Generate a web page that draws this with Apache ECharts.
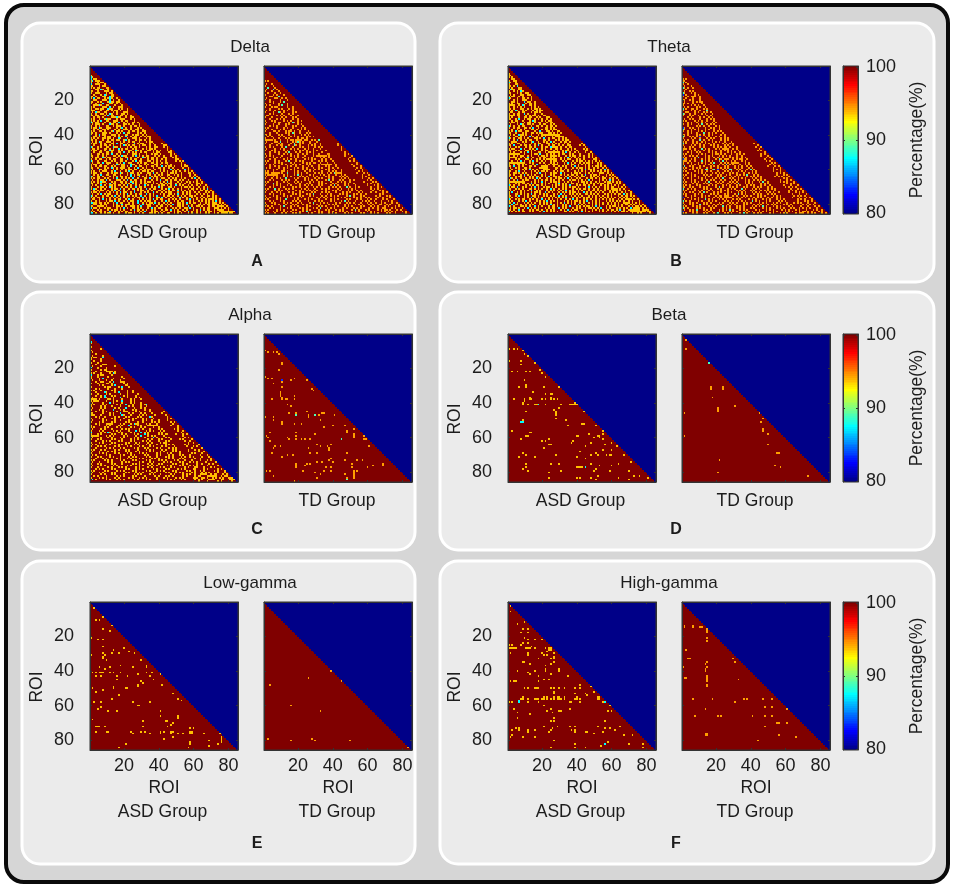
<!DOCTYPE html>
<html>
<head>
<meta charset="utf-8">
<script src="https://cdn.jsdelivr.net/npm/echarts@6/dist/echarts.min.js"></script>
<style>html,body{margin:0;background:#fff}#main{width:957px;height:889px}</style>
</head>
<body>
<div id="main"></div>
<script>
// percentages a cell can take: 0, 1, 2 or 3 subjects missing
var asdLevels = [100, 93.75, 87.5, 81.25];
var tdLevels = [100, 94.4, 88.9, 83.3];
var maskValue = 80;
var roiCount = 85;
var tickRois = ['20', '40', '60', '80'];
var barTicks = ['80', '90', '100'];

// [roi column, roi row, subjects missing (1 if left out)]
var betaAsd = [[1,9],[4,9],[6,9],[9,10],[10,12],[12,13],[1,16],[8,16],[8,18],[16,17],[19,21],[20,23],[3,22],[6,22],[11,22],[13,22],[22,25],[10,27],[11,30],[11,31],[7,31],[21,31],[30,31],[15,34],[22,35],[25,35],[26,35],[4,38],[10,38],[10,39],[13,37],[13,38],[14,38],[20,38],[22,38],[25,37],[25,38],[27,38],[29,38],[9,41],[9,40],[12,41],[16,41],[17,41],[18,41,2],[22,41],[31,41],[36,41],[37,41],[38,41],[39,41],[40,41],[39,40],[11,45],[27,44],[30,43],[28,45],[28,46],[28,47],[44,45],[28,49],[34,50],[9,50],[9,51,2],[8,51,2],[43,52],[44,52],[35,53],[51,53],[3,56],[13,57],[14,57],[55,56],[47,58],[55,58],[11,59],[12,59],[40,59],[41,59],[52,59],[53,59],[50,60],[53,60],[55,61],[8,61],[24,61],[20,62],[22,62],[38,62],[37,63],[60,63],[24,64],[25,64],[48,63],[56,64],[45,65],[63,65],[21,66],[55,67],[60,67],[42,68],[51,69],[52,70],[9,69],[7,71],[11,70],[16,71],[28,70],[40,71],[48,70],[57,70],[59,70],[60,70],[67,70],[45,72],[71,74],[25,75],[30,75],[48,75],[11,75],[53,76],[60,76],[64,75],[40,77],[41,77],[42,77],[43,77],[45,77,2],[9,78],[11,77],[12,79],[51,78],[50,79],[31,79],[59,79],[70,79],[24,80],[52,82],[73,82],[76,82],[24,83],[40,83],[42,83],[48,83],[51,84],[64,83],[70,84],[81,83]];
var betaTd = [[3,4],[3,9],[16,17,2],[2,46],[2,59],[17,31],[17,32],[24,31],[24,32],[18,37],[21,43],[21,44],[21,45],[31,42],[45,46],[47,49],[46,51],[47,55],[47,56],[50,58],[50,64],[55,69],[56,69],[22,73],[54,76],[57,77],[21,80],[73,82]];
var lowGammaAsd = [[3,4],[8,9],[4,11],[6,11],[13,14],[8,16],[12,17],[1,21],[5,22],[8,22],[8,26],[20,27],[14,28],[23,29],[26,30],[17,30],[13,30],[8,30],[9,31],[1,31],[8,32],[8,33],[10,34],[30,34],[18,37],[6,38],[12,38],[25,38],[33,37],[33,38],[9,39],[2,41],[4,41],[6,41],[7,41],[8,41],[12,41],[14,41],[18,41],[33,41],[36,41],[41,42],[4,43],[7,43],[16,43],[22,43],[28,42],[35,43],[16,45],[37,45],[30,46],[31,47],[42,48],[28,48],[28,49],[14,49],[14,50],[2,50],[21,50],[22,50],[8,51],[4,52],[48,53],[17,54],[13,56],[51,56],[53,57],[3,58],[7,58],[25,58],[35,58],[28,60],[29,60],[7,61],[5,62],[11,63],[16,63],[41,63],[41,66],[51,66],[51,67],[2,68],[31,69],[44,69],[45,69],[48,70],[47,71],[4,72],[5,72],[6,72],[9,72],[31,72],[45,72],[58,73],[60,73],[30,75],[4,75],[10,75],[11,75],[24,75],[25,76],[32,75],[35,76],[41,75],[41,76],[43,75],[47,75],[48,75],[47,76],[51,76],[54,76],[58,75],[59,75],[58,76],[59,76],[66,76],[75,76],[48,78],[43,79],[69,80],[76,78],[76,79],[76,80],[76,81],[58,81],[58,82],[21,82],[69,83],[74,82],[17,84],[57,84]];
var lowGammaTd = [[4,48],[3,79],[16,60],[16,80],[26,44],[28,79],[30,80],[33,63],[39,40],[45,46],[50,80],[83,84]];
var highGammaAsd = [[2,3],[2,6],[10,12],[6,13],[9,16],[12,16],[8,18],[12,18],[10,21],[12,22],[16,22],[20,22],[9,24],[8,25],[12,24],[1,25],[3,25],[1,27],[2,27],[3,27],[4,27],[5,27],[11,27],[12,27],[13,27],[14,26],[16,27],[22,27],[24,27],[25,27],[24,28],[25,28],[2,30],[12,30],[12,31],[20,30],[23,29],[21,31],[23,31],[27,30],[27,32],[27,33],[18,33],[25,33],[9,35],[10,35],[27,35],[13,36],[25,36],[22,37],[22,39],[22,40],[6,40],[16,40],[30,39],[30,40],[12,41],[13,42],[25,42],[18,43],[35,43],[21,45],[24,45],[2,46],[4,46],[5,46],[18,46],[42,48],[48,49],[10,50],[12,50],[16,50],[17,50],[18,50],[25,50],[27,50],[30,50],[33,50],[39,50],[42,50],[50,52],[27,52],[27,53],[39,53],[45,53],[46,54],[8,56],[9,56],[12,56],[16,56],[17,56],[18,56],[20,56],[21,56],[23,56],[25,56],[27,56],[29,56],[30,56],[31,56],[33,56],[39,56],[40,56],[42,56],[52,55],[53,55],[52,56],[53,56],[9,55],[21,55],[27,55],[23,55],[29,55],[30,55],[40,55],[33,55],[1,58],[3,58],[7,57,2],[7,58,2],[12,58],[18,58],[36,58],[37,58],[42,58],[55,58],[56,58,2],[59,60],[21,60],[4,62],[23,63],[25,62],[30,63],[31,63],[36,62],[58,63],[60,63],[6,64],[26,64],[13,65],[6,67],[27,67],[56,69],[25,69],[27,69],[21,72],[29,72],[36,72],[39,72],[52,72],[65,72],[5,73],[3,74],[7,73],[7,74],[12,74],[12,75],[16,74],[26,73],[25,74],[24,75],[37,74],[39,74],[39,75],[45,75],[46,75],[56,73],[59,73],[62,74],[55,75],[50,76],[3,77],[2,78],[9,78],[16,78],[67,77],[72,77],[27,80],[58,81],[56,82,2],[54,83],[39,82],[70,82],[78,82],[25,84],[39,84],[45,84],[78,84]];
var highGammaTd = [[2,14],[2,15],[7,14],[7,15],[11,15],[12,15],[15,16],[15,17],[15,18],[15,21],[15,23],[3,28],[4,33],[5,33],[1,38],[15,35],[14,36],[15,38],[14,39],[14,40],[15,43],[15,44],[15,45],[15,46],[15,48],[15,49],[2,44],[3,44],[30,33],[31,35],[33,45],[7,56],[18,56],[36,56],[38,56],[47,56],[52,56],[31,58],[14,62],[48,61],[52,61],[61,62],[8,66],[21,66],[23,66],[41,66],[48,66],[52,66],[55,70],[56,70],[61,70],[48,72],[14,76],[15,76],[14,77],[15,77],[56,77],[66,78],[44,80]];
var alphaTd = [[1,10],[3,11],[6,11],[8,11],[9,12],[11,17],[11,18],[9,21],[1,25],[3,26],[5,26],[11,27,3],[11,28],[6,29],[11,31],[16,27],[18,26],[25,27],[28,32],[29,33],[10,34],[10,35],[10,36],[11,37],[11,38],[13,38],[14,38],[5,38],[18,36],[18,38],[14,41],[16,42],[19,46],[19,47,2],[15,46],[25,45],[26,47],[26,48],[30,47,2],[32,47],[33,50],[34,46],[35,46],[41,47],[1,48],[6,48],[6,50],[11,51],[11,52],[18,52],[22,52],[35,54],[40,53],[47,53],[48,56],[48,57],[4,57],[52,55],[2,59],[3,60],[4,62],[14,60],[15,61],[19,57],[19,59],[19,61],[22,61],[24,61],[27,61],[30,58],[45,61,2],[52,58],[52,59],[52,60],[58,59],[58,61],[59,61],[26,66],[10,65],[7,65],[6,66],[5,69],[31,64],[33,65],[37,65],[38,66],[38,67],[39,64],[11,71],[14,70],[17,70],[27,69],[31,69],[48,69],[61,65],[39,72],[38,73],[31,74],[19,75],[19,76],[19,77],[24,76],[25,75],[27,75],[34,74],[40,74],[47,73],[51,75],[51,77],[54,73],[57,73],[63,76],[69,75],[69,76],[60,77],[2,79],[4,79],[6,82],[23,79],[35,79],[39,79],[36,77],[39,77],[30,80],[33,81],[31,83],[47,81],[48,83],[52,79],[52,80],[52,81],[52,82],[52,83],[48,84,2],[18,85],[60,85],[54,79]];
// dense panels: one string per row, '.' full, 1-3 subjects missing
var deltaAsdRows = [
"","","","","","1","21","2.11","12.111","1...1.11",
"2..111..1","11...1.11","1.1.11...11","...11.21..1","11..1...111.1",
"1..111...1.11","..1...1.21..11","11.1...11..211.","1.2.11..1.121..1","..11...111.2.1..1",
"11..1.1...1211.11","1..1...2...11..1.1","..11121..11...1...1","1.1....111.2.1..111","1..11.11..211...1.1..1",
"111...1..11.1.11.1...1",".1.211..11...1.1...111.","1..1..11.1.21..1..11.1.","11.11...1.2.11...11.1..1","..1.11.1....111211..1..11",
"1.1..1..1211...1.111...1.1","1.1.1.2..11..111..1.11...1.","21.11...1..1.11.2..1.1..11.1",".1.111.1...211.1...11.1.1...1","1..1.1...11..1.111.1...1.11.1.",
"1.11.21..111...1.12.1..1...1.1","..1.1..11.1...1.1..111.1..11..1.","1.1..11.1...12.11.1...1.11.1..11","11.1...111.1...1.1.2.11....1.1.1.","1..1.2.11...111.1...11..1.11..1.1",
"..11.1..1.11..1.1.1.2..1.11..1.1.11","1.1.1..11.11.1..21...1..111.1...1.1","11.1...1..1.11.11..12.1...1.11.1..1.",".1.1.21..111.1...1.1..1.11..1...1.11","1.11..1.1...11.2.11..1...2.1.11...1.1.",
"..1...1.11.1.1...1.21.1.11..1.11..1..1","21..1.1..11..211.1...1.1.11.1...1.1..11",".11.1...11.1.1..2.1.11..1.1...1.1.11.1..","1.11..1.1..211..1.1...11..21.1...11.1.1.1","..1..11..11.1...11.2..1.1.1..1.11...1.11.",
"1...11.1.11.2..1.1...1..111.1...1..1.11.1.","11..1..1.1...11.1.211...1.2.1.1.11...1.1..1",".1.11..21.11...1.1..11.1...1..21.1.11.1...11","1..1.11..1.1.11..11..2.1.11..1...1.11.1..1.1.","21..1...11..1.1..11.1...1.2.11...11.1.1.1..1",
".1..11.2.111...1.1.2..11...1.1.11..11.1..1.11.","1.11..1...1..1.21.11...211..1..1.1...11.1...1.1.","1..1.11.11..1.1...11.1.2..1.11..1..11.1..2.1.11.1.","11..1...1.1.21.1.111..1..1.2..1.1...1..11.1..1.1..",".1...21.11...1.1..1.1.11.11..1.1.11..1..1.1...2.1.1",
"1.1..1.111..1.2..1..1.2.1...1.11.1.11...1.1.1..1.1.1","1.11..1...1.1.11.21..1.11..1.1...11.2.1..1..1.11.1..1","..1.1.2..11..11..1...1.2.1.11...1.1..1.1.1..11..1.1.1.","21..11.1...1.1.1.11.1..2.1..2.1.1..1.11.1...1.1...1.1..","1.1.11..1.1..1.2..1.1.1.2..1...11.2.1.1..11..1.1.1..1.1.",
".1..1.11.2.1...111.1.2.1.11..1.1...1..1.2..11.1.11.1.1..1","1.1.1.211...1.1..11.1..21.1..1.1.11.1...1.1.2.1...1.1..1.1","11..1.1..1.2.11...1.1.1.2.1..1.11...1.1.11.1.11..1.1..1..1.",".1.1..2.1..11.1.11.1.2.1..1.1..2.1.1...1.11.1.1..2.1.1..1.1.","1...1.11.1.21.1...1.11.1..2.11.1...1.1.2.1...11.1...1.11.1.1.",
"1.21..1.1...1.11.2.1..1.11.1.1..2.1.11...1.1.2.1..1.1...1.11.1","..1.1.11..1.1.2.1..1.1...2.1.11..1.1...11.1..1.11.2.1.1..1.1...1","1.11.1...1.1.1.1.2.11..1.2...1.1.1..2.1..1.1.11...1..1.1.1..1.1.",".1..1.2.1.11...1.1.1.2.1..1.11..2.1.1...1.1..11.1.2..1.1.1...1.1.1","21.1...1.11.1.2.1..1.11.1.1..2.1..1.1.2...1.11.1..1.1.1..11.1...1.",
"1.1.11.1...1.1.1.2.1.1...1.11.2.1.1...11.2.1..1.1..2.1.1..1..1.1.1.1",".11..1.2.1.1..1.11..1.2.1...1.1.1.1.2.1.11...1.1.1.1...1.2.1.1..1.1..1","1..1.1...1.11.2.1..1.1.11..2.1.1.11..1...1.2.1..1.1.11...1.1..1.1.1.1.1","2211.11.1.1..1.2.11...1.1..2..1.1.11.2.1..1.1.1...11.1.2.1.11..1..1.1..1","1.11..1.11...1.1..2.111.1...1.2.111.1..1.1.1.1.2..11.1.1..1...11.1.11.1..1.1.",
"11..1111.1...1.11.1.1..111.1.2...11...1.11..1.1...11.1..2.1..11.1...1.1..11.1.1..",
"2.11.1..1.11...1.1.2.1..11.1.1...1.2.1.11..1...1.1.1..11.2.1...1.1.11..1.1...1.1.1",".1..1.1...1.1.11.1.1...1.2.11.1.1..1.1...1.11.2.1.1..1.1...1.1.2.1.11..1.1.1...1..",
"1.1..11.1..2..1.1.1.11...1.1.1.2...1.11.1.1...1.1.11..1.2.1..1.1..1.11.1...1.1.1.1","22.1..1.1.11.1..1...1.11.1..1.1...11.1.1.1..11..1.1.1...1.11.1.1..1.1..1.1.1.11.1."
];
var deltaTdRows = [
"","","","","","","","","1.1","...",
".1..1","1....1","..2...1",".1...2.1","1...1...1",
"..1...1..1","1....1.1...1","...11...2..",".1....11..1.1","1..1.....1...1",
"...1.1...1.2...","1....1..1....1.",".1.1....1.2..1..","1...1.11.....1..1","...1....1.1...1.1",
".1.1..1....1.1..1.","1....1..21.1....1.1","...1.1....1...1.1..",".11....1.1.1...1...1","1...1.....1.1...1.1.",
"...1...1.1.1....1..1","1...1.1....1.1.1...1.1",".1....1.11....1.21.1..","1....1..1...1.1....1.1.","...1.1.1....1...1.1...1.",
"1.1....1...1.1..1....1.1",".1..1....1.1...1...1.1.1.","1....11.1...1.11.1..1....1","...1...1....1.1.21..1...1.1","11.1....1.1...1..1...1.1.1..",
"..1.1....1.1...1.1.1....1.1.1","1....1..1...1.1....1.11.1...","11111.1..1...1.11.1111.11..1.1.2",".1....11.2...1..1.121.1...1...1.","1...1...1.1....1.2..1.1...1..1..1",
"...1...1.11...1..21.1....1.1.1..1","1..1.1....1.2...1...1.1..1...1.1.1",".1....1..1.1...1.1.1...1.1..1...1.","1...1.1....1.1...1..1.1.1...1.1....1","...1..1.1...1.2...1.1...1.1.1....1.",
"1..1....1..1.1.1...1..1.1...1..1....11",".1.1.1....1....1.1.1...1....1.111111.1","1....1.1.1...1...1.1..1..1.1....1.1..1.","...1..1....1.1.1..1....1.1.1.1...1.1..1","1.1...1.1...1.2...1.1.1....1...1.1.1...1",
".1....1.1.1....1.1....1.1.1.11..1...1...1","1..1.1....1.1...1.1.1...1.1....1.111111..1","...1..1.1....1.1..1...1..1.1...1...1.1...1.",".1.1....1..1.1...1.1..1.1...1..1.1...1.1..1.","1....1.1...1...1.1....1.1.1..1.1...1.1..1...1",
"1.1..1....11.1...1.1...1..1.1....1...1.1.1..1.","111.11111.1..2...1.1.1..1....1.1.1..1.1.21111..","1.111111...1.1...1.2.1....1.1...1.1..1...1..1.1",".1...1.1...1.1.1....1.1.1...1.1....1.1.1...1.1.1.","1...1..1.1..2....1.1...1.1...1.1.1...1.1....1.1.1.",
"...1.1....1.1.1...1....1.1.1..1....1.2.1...1.1...1.1","1.1....1...1.1...1.1.1....1.1..1.1....1...1.1.1..1..",".1...2.1.1....1...1.1...1.1....1.1.1...1.1....1.1..1.","1....1.1.1...1.1....1..1.1.1...1.1....1.2.1...1.1...1.","...1.1...1.1....1.1.1...1...1.1.1....1.1.1.1...2.1..1.1",
"1.1...2.1...1.1.1....1.1.1...1...1.1.1....1.1...1.1.1...",".1....1.1.1..1....1.1...1.1.1.1....1...1.1.1....1.1..1.1.","1...1..1.1....1.1...1.1....1.1...1.1.1...1...1.1.1....1.1.","...1.1...1.1....1.1.1...1.1.2...1...1.1....1.1.1...1.1.1..1","1....1.1...1.1.1....1.1...1.1....1.1..1.1.1....1.2.1...1.1..",
".1.1...1.1...1...1.1.1...1....1.1.1.1...1...1.1....1.1.1..1.1","1.1....1.1..2....1.1...1.1.1...1...1..1.1.1....1.1...1.1...1.1.","...1.1...1.1....1.1.1....1...1.1.1....1.1...1.2.1...1...1.1.1..1","1...1.1....1.1.1...1.1....1.2...1.1.1....1.1...1.1.1...1...1.1..1.",".1....1.1...1...1.1...1.1...1.1.1....1.1.1....1.1...1.1.1...1.1....1",
"1.1.1....1.2...1.1.1....1.1....1.1.1....1.1...1.1.1....1.1...1.1.1...","...1.1...1...1.1....1.1.1...1.1.2...1.1.1....1.1...1.1.1....1.1..1...1.","1.1....1.1.1....1.1...1.1.1....1...1.1...1.1.1....1.2.1...1.1....1.1.1..",".1...1.1...1.1.1....1.1.2....1.1.1...1.1...1.1.1....1.1....1.1.1...1...1.1","1.1...1...1.1...1.1.1....1.1...1.1...1.1.1....1.1.1....1.1...1.1.1....1.1..."
];
var thetaAsdRows = [
"","","","","1","11","1.1","..11","1..11","21..1",
"1...11.","11.1.2..","1.1...11",".211..11.","1..1.1.21..",
"11...1.1..11",".1.1...11..11","1.11..1.1....1","21...1..11.1.1","1..1.1..111..1.",
"..11.1...2.11..1","1.1..11...1.11.1","1111..1.21..11.1.","1..1.1.1.1...1.1.1","11.1...11..1.1.11.1",
"1.1.21..1.1...1.1.11",".11...1.11...1.11.1..","1..1.11..2.1...1...1..","1111.11...1.1.11.1..11.","1.1...1..11.11..1.1...11",
"11..1.2..1.11..1.1.1..1.1","..1.11..1...1.21...1.1.11.","1.11.1...1.11..1.11...1.11.",".1...1.21..11.1...1.11..1.1.","21.1..1.11...1..11.1..1.11.1",
"1..1.11..11.1.2..1...11.1.1.","..1..1.1.1...11.1..1.11.1.11..","1.1.2.11..11...1..2...11.1..11.","11..1...1.1..11.1.11...11.1.1.1",".1.1..211.1..1...1.11111111111..",
"1...11.1.1..2.1.1..1.1...1.11111.","21.1..11.1.1...11.1.2..1.11..1.1.1","1..1.2.1..1.11..1...11.1...1.1.1.11","..111...1.1..12..1..1.1.2.1...1.11.1","1.1..11..1...1.1.11...11.1.1.1..1.1.",
"11.2...1.11.1..1.2.1...1.11..1.1..11",".1..1.1...1.11.1...1.11.21111.1..1.11.","1.11...2.1..1.1.2..1.1..1..11.1...1.1.1","11..1.1...11.1.1...1.11...1.1..1.11.1..1",".1.1...1.1.2.1...11..1.1111111.1.2.1..1.1",
"1111111..1...1.11.2...1.1.1..1.11..1.1...1.","1..1.1.11..1.1...1.11.1.1111.1...1.1.11..1.1","11111..1.1.2..1...1.11..1.1...1.1.2.1.1.1..1","1...1.1...11.1..1.1.1.111111..1.1.11...1.1.1.","..1..1.2.1..1.2.1..1.1..1.11...1.1...1.1.11.1.1",
"1111111111..1.1...1.1...1.1.1...1.2.1.1..1.1.11.","1..1.11.1.1...1.2....1.1.1111...1.1.11..1.1.1.1..","11.2..1.1...11.1...1111...1..1.1.1..1.2.1...1.1.1.",".1..1.1..11.1.....11111....11.1..1...1.1.11.1.1..1","1.1...1.1.1.2.1.1...1111...1..1.1.1.1...1.1.2.11.1.",
"11..1.2..1...1.1.1.11.1...1.1.11..1...1.1.1.1..1.1.1","1..11.1.1.1..1..1.2..1..1.11..2.1...1.11.1..1.1.1...1","11.1...1.2.1.1.1...1.1..1.1...1.1.1.11.1..1.2..1.11.1.","1...1.11.1..1.1.11.1.1.2..11.1...1.1..1.1.11...1.1.1..1",".21.1..1..1.1.1.2.1...1.1..1.11.1.2.1..1.1...1.11.1.1.1.",
"1..1.2..1.11...1.1.1.11.1.1..1.1...1.11.1.1.1.2.1...1.1.1","1111111111...1.1.1.2.1..1.11.1..1.1.1...1.11.1.1..1.1..1.1","1...1.1.11.1.2.1...1.1.1...1.2.1.1..11.1...1.1.1.1.1.11..1.","21.1..1...1.1.1.11.1.1...1.1.1.1.1.2...1.1.11.1..1...1.1.1.1","1.11.2..1.1..1.2.1..1.11.1.1...1.1.1.11.1...1.2.1.1.1..1.1.11",
"11..1.1.1...11.1.1.1..1.2.1..1.1.1...1.1.1.11.1..1.1...1.1.1.1.",".1.1...1.1.1.2..1.1...1.1.1.1.1..2.1.1..1.1...1.11.1.1.1..1.1.1.1","1.2..1.1.1...1.11.1..2.1.1...1.1.1.1.11.1..2.1.1..1.1.1...1.1.1..1","1...11.1.1.1.2.1..1.1.1...1.1.2.1..1.1.1.1..11.1.1.1...1.1.1.1.1..","11..1.2..1.1..11.1..1.1.1.1..2.1.1..1.1.1.1...1.1.1.1.1..1.1...1.1.1",
"1.1..1...1.1.2.1.1.1...1.1.1.1.1.2...1.1.1.1.11.1.1..1.1.1.1.1..1.1.1","21..1.1.11..1.1.1..2.1.1.1..1.1..1.1.2.1...1.1.1..1.1.1.1.1.1..1.1...1.","1.1...1.1.2.1...1.1.1.2.1.1.1...1.1.1.11.1.1.2..1.1.1...1.1.1.1.1.1..1.1","11.2.1...1.1.1.1..1.1.1.1...1.1.2.1.1.1..1.1..1.1.1.1.1..1.1.1.1...1.1.1.1","1.2.11.1..1.1.1...1.1.1.2.1.1..1.1..1.1.2.1.1...1.1.1.1..1.1.1.1.1..1.1.1....",
"21.1...11.1.1..2.1.1...1.11.1..1.1.2...1.1.1.11.1.2.1...1.1.11.1.1...1.1.11.1.1.1",".1.11.1..1.2.1.1.1...1.1.11..2.1.1...1.1.1..1.11.1.1.2..1.1...1.1.1.1...11.1.1.1.1","11.1..2.1...1.1.11.1..1.1.1...1.1.2.1.11..1.1...1.1.1.1..1.11.1.2.1..1.1.1.1..1.1.","2.1.1.1.11..1.1...1.2.1.1.1.1...11.1.1..1.2.1.1.1...1.1.1..1.1.1.11.1...1.1.1.1.1.."
];
var thetaTdRows = [
"","","","","","","","1.1","11.","2.1",
"1..1",".1...1","21.1..1","..1....",".1..1.1.",
"21...1.1","3.1....1.1","1..1.111..1","..1...1...1.","11..1.1...1",
".1....1.1.11.","11.1..1....1.","1....1.1.1..1.",".1.1....1.1..1.","2.1..11.1...1.1",
"1....1.1..1...2.","..11...1.1..1.1.1","21..1..1...1.1...1","1...1.1..1....1.1.","...1.1....1.1..1.1.",
".1..1.1...1...1.1.1","1.1....1.1.1..1...1.","...1.1..1..1.1...1.1","1..1.1...1.2..1.1.1..","...1....1.1.1..1...1.1",
"31..1.1..1...1..1.1..1","21...1.1.1...1.1..1..1.","1..1.1...1.1.1....1.1.1","...1.1..1...2..1.1.1...1","11.1....1.1.1..1.1....1.1",
"21..1.1.1.3..1.1...1.1..1.","1....1.1..1...1.1.1...1.1.1",".1.1..1...2.1..1.1....1.1.1.","1.1...1.1..1.1...1.1.1..1...1","2.1...1.1.1..1.1..1....1.1.1.1",
"1....1.1..1.1...1.1.1...1.1..1..",".1..1.1...1.1.....1.1.1.11.1...1.","111.1..1...2.1.1...1.1.1111..1.1.","1....1.1.1..1..1.1....1.1.1.1...1.","...1.1..1.1....1.1.1..1...1.1.1..1",
"1.1..1...1.1.1...1.11.1.1...1..1.1.1",".1..1.1.1....1.1.1...1.1.1.1...1..1.","1.1....1.2...1.1..1.1..1...1.1.1..1.1","311..1.1...1.1.1...1.21.111..1.1.11..1.","111.1..1...2.1.1.1...1.2.1..1.1...1.1.",
"1..1.1...1.1.1..1.2...1.1.1.11111...1.1","1....1.1.1...1.1.1...1.1.2.1.1...1..1.1.",".2..1.1...1.1...1.1.1...1.1...1.1.1..1.1.","1.1...1.1.1...1.1...1.1.1.1...1.1.1...1.1.",".1..1.1..1.1.22..12.3..1.1.22..1.1...1.2.1.",
"1.1....1.1.1..1.1...1...1.1.1...1.1.1...1.1","...1.1...1.1.1...1.1.1.1...1.1.1...1..1.1.1.","1.1..1.1....1.1.1...1.1..1.1...1.1.1.2...1.1.",".1...1.1.1...1.1....1.1.1...1.1.1....1.1.1.1.1","1..1.1...1.1.1...1.1.1.2...1.1..1.1.1...1.1..1.",
".1...1.1...1..1.1.1...1.1...1.1.1...1.1..1.1.1.1","1.1..1.1.1...1.2...1.1.1...1.1.1....1.1.1...1.2..1",".1....1.1...1.1.1...1.1...1.1.1.2...1.1.1....1.1.1.","1.1.1...1.1....1.1.1...1.1.1...1.1...1.1.1...1.1..1.","11..1.1...1.1.1....1.2.1...1.1.1...1.1...1.1.1...1.1.",
"2..1.1.1....1.1.1...1.1...1.1.1...2.1...1.1.1....1.1.1","1.1....1.1.1...1.1....1.1.1....1.1.1...1.1...1.1.1...1.",".1..1.1...1.2.1...1.1.1...1.1...1.1.1...1.1.1...1.1.1..1","1.1....1.1.1....1.1.1...1.1...1.2.1.1....1.1.1...1.1.1..","..1..1.1...1.1.1...1.11.111..1.1...1.1.1...1.1.1....1.1.1",
"3..1.1...1.1.1....1.1.1.11111...1.1.1....1.1.1...1.1..1.1.",".1...1.1.1...2.1.1...1.1.1...1.1.1....1.1.1...1.1.1...1.1.1","2.1.1....1.1...1.1.1....1.1.1...1.1.1...2.1.1...1.1....1.1.1","1...1.1.1...1.1.1....1.1...1.1.1...1.1.1....1.1.1...1.1.1...1.",".1..1.1...2.1.1...1.1.1...1.1.1....1.1...1.1.1...1.1.1....1.1.1",
"1.1...1.1.1....1.1.1...2.1.1...1.1.1....1.1.1.2.1...1.1.1....1.1","21.1....1.1.1...1.1....1.1.1...1.1.1...1.1....1.1.1...1.1.1...1.1.",".1..1.1.2...1.1.1....1.1.1.2.1...1.1.1....1.1...1.1.1....1.1.1...1.1","3...1.1.1....1.1.1...1.1...1.1.1....1.1.1...1.1.1...1.1....1.1.1...1.1","1.1...1.1...1.1...1.2...1.1.1....1.2.1...1.1.1....1.1...1.1.1....1.1.1...."
];
var alphaAsdRows = [
"","","","","2","1","","1","......1","1...",
".1....","...1...",".1.....1","1.11...2...","1.....1....",
"..1...1.....","1...1.........","...1...111....",".1....1.......1","2...1....1......",
"1.....1.11.....","...1.....1111.1.","1.1...1....1.21..","2...1.11....1.....","1...1.....1.......1.",
"1....1.2.....1.....1",".1...1...1..1....1...","...1..11...1.2...111..","1...1....11.1......1.1",".....1.1....1.2.....11",
"1.......1.11....1.2...1.","...1.1....1...1...1.....","1.1...1.....1.1......1..1","...1....21....1.2....1..1.","1...1....1.1.....1...1.....1",
"...1..1.2...1.1....1.1....1..",".1....1.21...1...2...1....1.1.","1111.1....11.1....1....1.1...1","1.111....1...1.1..2....1.1.....",".1.....1...2.1....1....1.1...1..",
"1.1....1.1.....1.1..2...1....1.12","1.....1.1...1....1....1.1....1..1.",".1....1.1.....1.1...2....1...1.1...","1....1.1.....2...1.1....1.1....1..1","...1...1.1.....1...111....1.1.....1.",
"11.....1...1.1...2....1.1....1.1...1","111...1....1.1....21...1....1.1.1....1","...1.1..1.....1.1...1.1....1.1....21..","1....1.1....1.1....1....1.1...1.1...1..",".1.....1.1....1..1....1.1.....1.1..1...1",
"1....1.1....1.1.....1.1....1..1....1.1.1","...1.1...1111....1.1...1.211....1.1...1..","1....1...1.1....1.1...2....1.1...111111...","1.1.....1.1....1.1.....1.1...1.1....1..1.",".1....1.1...1.....1.1.1.....1.1...1....1.1",
"1....1.1.....1.1.1....1...2.1...1.1.1...1.1","2.....1.1.21....1.1....1.1...2.1.1.....1.1..","1...1.1.....1.1...1.1....1.1...2.1.....1.1.11","11111....1.1.1.....1.1....1..2...1.1.1....1...",".1....1...1.1....1.1.....1.1...1....2.1....1.1.",
"1...1.1.....1.1...1....1.1.1.....1.1...1.1....1","...1...1.1.1....1.1....1.1....1.1.1....1...1.1..","1....1.1....1.1.....1.1...1.1....1.1....1.11....",".1.1.....1.1....1.1.1....1.1....1.1...1....1.1.1.","1...1.1.1.....1.1....1.1....1.1...1.1....1.1....1.",
"...1.....1.1.1...1.1.....1.1...1.1....1.1....1.1.1.","1.1...1.1.....1.1...1.1....1....1.1.1....1.1...1.1..",".1...1....1.1.1.....1.1...1.1.....1.1...1.1....1.1.1.","1....1.1.1....1.1....1.1....1.1.1.....1.1...1.1....1..",".1.1.....1.1.....1.1...1.1.....1.1....1.1....1.1...1.1.",
"1...1.1....1.1...1....1.1.1.....1.1...1....1.1.1....1.1.","...1...1.1.....1.1...1.1....1.1....1.1.1.....1.1...1.1...","1.1.....1.1.1....1.1....1.1.....1.1....1.1.1....1.1...1...",".1...1....1.1.....1.1.1.....1.1...1.1.....1.1.1....1.1...1","1...1.1.....1.1...1.....1.1.1....1.1...1.1.....1.1...1.1...",
".1....1.1....1.1.....1.1....1.1...1.1.1.....1.1....1.1...1..","1...1.....1.1...1.1.1.....1.1....1.1....1.1...1.1.....1.1...1","...1.1.1....1.1.....1.1...1.1.1.....1.1....1.1....1.1.1....1..","1.1.....1.1....1.1.1....1.1.....1.1...1.1.1....1.1.....1.1..1..",".1...1.1....1.1.....1.1...1.1.1....1.1.....1.1...1.1.1....1.1...1",
"1.....1.1...1.1....1.....1.1.1....1.1...1.....1.1....1.1.1.....1.1...1.1....1..","..1.1....1.....1.1.1....1.1....1.....1.1...1.1.1.....1.1....1.1....1.1.1...1.1...","1....1.1.1....1.1.....1.1...1.1.1.....1...1.1....1.1.1.....1.1...1.1....1.1....1.1",".2.1.....1.1...1.1.1.....1.1....1.1...1.....1.1.1...1.1.....1.1.1....1.1...1....1.1"
];
// cells next to the diagonal, rows 45 to 85, each string ending at the diagonal
var tailFirstRow = 45;
var deltaAsdTail = ["1..","11.","1.1.",".1..","1.1.","11..",".1.1.","1..1.","1.1..",".11..",
"1.1.1","..1..",".1.1.","1.11.","1..1.","2.1..","1.1.1.","11.1.",".1..1.","1.1.1.",
"1.2.1.","..1.1.","1.1..1.","11.1..",".1.1..1.","1..1.1.","1.1.2..","1.11.1.","..1.1.1.","1.1..1..",
"11.1.1.","1..1.1..",".1.1.1.1.","1.2.1..","1.1.1.1.",".11..1.1.","1.1.1..1.","1..1.1.1.","11.1..1..","1.1.1.1.1",".1..1.1.."];
var deltaTdTail = [".1.","1..","..1.",".1..","1...","..1..",".1.1.","1...1","..1..",".1..1.",
"1.1..","...1.","1..1..",".1...1.","..1.1..","1...1..",".1.1...","1...1.1.","..1...1.",".1.1....",
"1...1.1.","..1.1...","1....1.1.",".1.1...1.","1...1.1..","..1...1.1.","1.1.1....",".1...1.1..","1..1...1.1.","...1.1....",
"1.1...1.1.",".1..1...1..","1...1.1...1.","..1...1.1...",".1.1...1..1.","1...1.1....1.","..1.1...1.1..","1....1.1...1.",".1.1...1.1...","1...1.1...1.1.","..1..1...1.1.."];
var thetaAsdTail = ["1.","1.1.",".1.","1.1.","11..","1..1.",".1.1.","1.1..","1.1.1.",".11..",
"1.1.1.","1..1.1.",".1.1..","11.1.1.","1..1.1.",".1.2.1.","1.1.1..","11..1.1.",".1.1.1.","1.1..1.1.",
"1..1.1.1.","1.2.1..1.",".1.1.1.1.","11..1.1..","1.1.1..1.",".1..1.1.1.","1.1.1.1...","11.1..1.1.","1..1.1..1.",".1.2.1.1..",
"1.1..1.1.1.","1.1.1..1...",".11.1.1.1.","1..1.1...1.","1.1..1.1.1..","11.1.1..1.1.",".1.1..1.1...","1.2.1.1..1.1.","1.1.1..1.1..","11.1.1.1...1.","1..1.1..1.1.."];
var thetaTdTail = ["1..",".1.","1..1",".1..","1.1..","...1.",".1.1..","1...1.","..1.1.",".1...1.",
"1.1...","...1.1.",".1.1...","1...1.1.","..1...1.",".1.1.1..","1...1...","..1.1.1..",".1...1.1.","1.1.1...1.",
"...1.1...",".1...1.1..","1.1.1...1.","...1.1.1..",".1...1...1.","1.1.1.1...","...1...1.1.",".1.1.1...1.","1...1.1.1..","..1...1...1.",
".1.1.1.1...","1...1...1.1.","..1.1.1...1.",".1...1.1.1..","1.1.1...1...1.","...1.1.1.1...",".1...1...1.1.","1.1.1.1...1...","...1...1.1..1.",".1.1.1...1.1..","1...1.1.1...1.1."];
var alphaAsdTail = ["..1.","1...",".1..","..1..",".1.1.","1....","..1.1.",".1...","1...1.","..1..",
"1.1...",".1..1.","..1...","1...1.1.",".1....","...1.1..","1.1....1.",".1..1...","...1..1..","1.1.....1",
".1...1.1..","...1.....1","1...1.1...",".1.....1..1.","..1.1...1...","1.....1...1.",".1.1....1...1.","...1..1.....1.","1....1...1.1..",".1.1....1.....1",
"...1..1...1.1...","1.1.....1.....1.",".1...1...1.1....","1....1.1.....1.1.","..1.1.....1.1...1",".1.....1.1....1...1.","1...1.1.....1...1.1.","..1....1.1.1.....1..","1...1.....1...1.1...1.",".1.1...1.1.....1....1.","1....1.....1.1...1.1.."];

var panels = [
    {title: 'Delta', letter: 'A', box: [22, 23, 393, 259], plot: [66, 90, 264], asd: deltaAsdRows, td: deltaTdRows, asdTail: deltaAsdTail, tdTail: deltaTdTail},
    {title: 'Theta', letter: 'B', box: [440, 23, 494, 259], plot: [66, 508, 682], asd: thetaAsdRows, td: thetaTdRows, asdTail: thetaAsdTail, tdTail: thetaTdTail, bar: true},
    {title: 'Alpha', letter: 'C', box: [22, 292, 393, 258], plot: [334, 90, 264], asd: alphaAsdRows, td: alphaTd, asdTail: alphaAsdTail},
    {title: 'Beta', letter: 'D', box: [440, 292, 494, 258], plot: [334, 508, 682], asd: betaAsd, td: betaTd, bar: true},
    {title: 'Low-gamma', letter: 'E', box: [22, 561, 393, 303], plot: [602, 90, 264], asd: lowGammaAsd, td: lowGammaTd, xLabels: true},
    {title: 'High-gamma', letter: 'F', box: [440, 561, 494, 303], plot: [602, 508, 682], asd: highGammaAsd, td: highGammaTd, bar: true, xLabels: true}
];

var plotSize = 148;
var fontName = '"Liberation Sans", Arial, sans-serif';
var textColor = '#1c1c1c';

var roiNames = [];
for (var i = 1; i <= roiCount; i++) roiNames.push(String(i));

function cellData(source, levels, tail) {
    var missing = {};
    if (typeof source[0] === 'string') {
        source.forEach(function (line, r) {
            for (var c = 0; c < line.length; c++) {
                if (line[c] !== '.') missing[c + ',' + r] = +line[c];
            }
        });
    } else {
        source.forEach(function (p) {
            missing[(p[0] - 1) + ',' + (p[1] - 1)] = p[2] || 1;
        });
    }
    (tail || []).forEach(function (line, k) {
        var r = tailFirstRow - 1 + k;
        for (var n = 0; n < line.length; n++) {
            if (line[n] !== '.') missing[(r - line.length + n) + ',' + r] = +line[n];
        }
    });
    var data = [];
    for (var r = 0; r < roiCount; r++) {
        for (var c = 0; c < roiCount; c++) {
            var v = c >= r ? maskValue : levels[missing[c + ',' + r] || 0];
            data.push([c, r, v]);
        }
    }
    return data;
}

function showTick(index, value) {
    return tickRois.indexOf(value) >= 0;
}

// cells snapped to whole pixels so no seams show between them
function renderCell(params, api) {
    var p = api.coord([api.value(0), api.value(1)]);
    var size = api.size([1, 1]);
    var x0 = Math.round(p[0] - size[0] / 2), x1 = Math.round(p[0] + size[0] / 2);
    var y0 = Math.round(p[1] - size[1] / 2), y1 = Math.round(p[1] + size[1] / 2);
    return {
        type: 'rect',
        shape: {x: x0, y: y0, width: x1 - x0, height: y1 - y0},
        style: {fill: api.visual('color')}
    };
}

var option = {
    animation: false,
    backgroundColor: '#fff',
    title: [],
    grid: [],
    xAxis: [],
    yAxis: [],
    series: [],
    visualMap: {
        show: false,
        min: 80,
        max: 100,
        dimension: 2,
        inRange: {color: ['#000088', '#0000ff', '#0080ff', '#00ffff', '#80ff80', '#ffff00', '#ff8000', '#ff0000', '#800000']}
    },
    graphic: [{
        type: 'rect', z: -10,
        shape: {x: 6, y: 5, width: 942, height: 877, r: 18},
        style: {fill: '#d6d6d6', stroke: '#0a0a0a', lineWidth: 4}
    }]
};

function label(text, x, y, size, weight) {
    option.title.push({
        text: text, left: x, top: y, padding: 0, textAlign: 'center', textVerticalAlign: 'middle',
        textStyle: {fontFamily: fontName, fontSize: size, fontWeight: weight || 'normal', color: textColor}
    });
}

function addMatrix(left, top, source, levels, tail, withY, withX) {
    var g = option.grid.length;
    option.grid.push({
        left: left, top: top, width: plotSize, height: plotSize, show: true,
        borderColor: '#333', borderWidth: 1, z: 5
    });
    var tick = {show: true, inside: true, length: 2, interval: showTick, alignWithLabel: true, lineStyle: {color: '#333'}};
    var x = option.xAxis.length, y = option.yAxis.length;
    option.xAxis.push({
        type: 'category', gridIndex: g, data: roiNames, position: 'bottom', z: 6,
        axisLine: {lineStyle: {color: '#333'}}, axisTick: tick,
        axisLabel: {show: !!withX, interval: showTick, margin: 7, fontFamily: fontName, fontSize: 18, color: textColor},
        name: withX ? 'ROI' : '', nameLocation: 'middle', nameGap: 29,
        nameTextStyle: {fontFamily: fontName, fontSize: 17.5, color: textColor}
    }, {
        type: 'category', gridIndex: g, data: roiNames, position: 'top', z: 6,
        axisLine: {lineStyle: {color: '#333'}}, axisTick: tick, axisLabel: {show: false}
    });
    option.yAxis.push({
        type: 'category', gridIndex: g, data: roiNames, inverse: true, position: 'left', z: 6,
        axisLine: {lineStyle: {color: '#333'}}, axisTick: tick,
        axisLabel: {show: !!withY, interval: showTick, margin: 16, fontFamily: fontName, fontSize: 18, color: textColor},
        name: withY ? 'ROI' : '', nameLocation: 'middle', nameGap: 44, nameRotate: 90,
        nameTextStyle: {fontFamily: fontName, fontSize: 17.5, color: textColor, padding: [0, 22, 0, 0]}
    }, {
        type: 'category', gridIndex: g, data: roiNames, inverse: true, position: 'right', z: 6,
        axisLine: {lineStyle: {color: '#333'}}, axisTick: tick, axisLabel: {show: false}
    });
    option.series.push({
        type: 'custom', renderItem: renderCell, xAxisIndex: x, yAxisIndex: y, progressive: 0,
        encode: {x: 0, y: 1}, data: cellData(source, levels, tail), silent: true, z: 2
    });
}

var barLevels = [];
for (var s = 0; s <= 80; s++) barLevels.push(String(80 + s / 4));

function addColorBar(top) {
    var g = option.grid.length;
    option.grid.push({left: 843, top: top, width: 15, height: plotSize, show: true, borderColor: '#333', borderWidth: 1, z: 5});
    var x = option.xAxis.length, y = option.yAxis.length;
    var barTick = function (index, value) { return barTicks.indexOf(value) >= 0; };
    var tick = {show: true, inside: true, length: 2, interval: barTick, alignWithLabel: true, lineStyle: {color: '#333'}};
    option.xAxis.push({type: 'category', gridIndex: g, data: ['bar'], show: false});
    option.yAxis.push({
        type: 'category', gridIndex: g, data: barLevels, position: 'right', z: 6,
        axisLine: {lineStyle: {color: '#333'}}, axisTick: tick,
        axisLabel: {interval: barTick, margin: 8, fontFamily: fontName, fontSize: 18, color: textColor},
        name: 'Percentage(%)', nameLocation: 'middle', nameGap: 50, nameRotate: 90,
        nameTextStyle: {fontFamily: fontName, fontSize: 17.5, color: textColor}
    }, {
        type: 'category', gridIndex: g, data: barLevels, position: 'left', z: 6,
        axisLine: {lineStyle: {color: '#333'}}, axisTick: tick, axisLabel: {show: false}
    });
    option.series.push({
        type: 'custom', renderItem: renderCell, xAxisIndex: x, yAxisIndex: y, progressive: 0, silent: true, z: 2,
        encode: {x: 0, y: 1},
        data: barLevels.map(function (v, i) { return [0, i, +v]; })
    });
}

panels.forEach(function (p) {
    var boxBottom = p.box[1] + p.box[3];
    option.graphic.push({
        type: 'rect', z: -9,
        shape: {x: p.box[0], y: p.box[1], width: p.box[2], height: p.box[3], r: 18},
        style: {fill: '#ebebeb', stroke: '#fff', lineWidth: 3}
    });
    var top = p.plot[0], a = p.plot[1], b = p.plot[2];
    addMatrix(a, top, p.asd, asdLevels, p.asdTail, true, p.xLabels);
    addMatrix(b, top, p.td, tdLevels, p.tdTail, false, p.xLabels);
    if (p.bar) addColorBar(top);
    var groupY = top + (p.xLabels ? 211 : 168);
    label(p.title, (a + b + plotSize) / 2 - (p.bar ? 0 : 1), top - 19, 17);
    label('ASD Group', a + plotSize / 2 - 1.5, groupY - 1, 17.5);
    label('TD Group', b + plotSize / 2 - 1, groupY - 1, 17.5);
    label(p.letter, p.bar ? 676 : 257, boxBottom - 20, 16, 'bold');
});

var chart = echarts.init(document.getElementById('main'));
chart.setOption(option);
</script>
</body>
</html>
